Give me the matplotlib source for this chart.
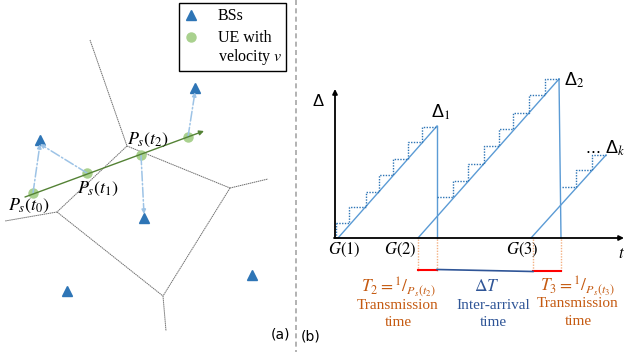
import matplotlib.pyplot as plt
import numpy as np
from matplotlib.patches import Rectangle

# ---- panel (a) data (pixel coordinates of the drawing) ----
vor_x = [[90, 127], [127, 57], [57, 5], [127, 230], [230, 268], [230, 163], [57, 163], [163, 166]]
vor_y = [[40, 146], [146, 212], [212, 221], [146, 188], [188, 179], [188, 296], [212, 296], [296, 331]]
bs_x = [195, 40, 144, 252, 67]
bs_y = [88, 140, 218, 275, 291]
ue_x = [33, 87, 141, 188]
ue_y = [193, 173, 155, 137]
ue_serving = [1, 1, 2, 0]          # index of BS each UE position links to
ue_labels = [r"$P_s(t_0)$", r"$P_s(t_1)$", r"$P_s(t_2)$"]
ue_label_x = [29, 98, 148]
ue_label_y = [206, 189, 140]
legend_labels = ["BSs", "UE with", "velocity $v$"]

# ---- panel (b) data ----
saw_start = [338, 418, 531]
saw_peak_x = [437, 559, 606]
saw_peak_y = [126, 79, 155]
saw_drop = [0, 2, None]
step1_x = [336, 349, 366, 379, 393, 408, 422, 437]
step1_y = [223, 207, 192, 175, 159, 142, 127]
step2_x = [437, 453, 468, 484, 499, 513, 529, 545, 559]
step2_y = [197, 181, 164, 146, 129, 113, 95, 79]
step3_x = [562, 576, 592, 606]
step3_y = [187, 170, 155]
gen_labels = ["$G(1)$", "$G(2)$", "$G(3)$"]
gen_x = [344, 400, 522]
mark_x = [418, 437, 533, 561]

orange = "#c55a11"
navy = "#2f5597"
lblue = "#5b9bd5"
serif = 'Liberation Serif'
sans = 'Liberation Sans'

plt.rcParams['mathtext.fontset'] = 'stix'

fig = plt.figure(figsize=(6.25, 3.52), dpi=100)
ax = fig.add_axes([0, 0, 1, 1])
ax.set_xlim(0, 625)
ax.set_ylim(352, 0)
ax.axis('off')

# Voronoi cells
for xs, ys in zip(vor_x, vor_y):
    ax.plot(xs, ys, color='#6f6f6f', lw=0.7, ls=(0, (1.5, 0.6)))

# UE -> BS links
for i in range(len(ue_x)):
    b = ue_serving[i]
    ax.annotate("", xy=(bs_x[b], bs_y[b] + 4 * np.sign(ue_y[i] - bs_y[b])), xytext=(ue_x[i], ue_y[i]),
                arrowprops=dict(arrowstyle='-|>', color='#9dc3e6', lw=1.1, ls='-.',
                                mutation_scale=6, shrinkA=0, shrinkB=0))

# trajectory
ax.annotate("", xy=(204, 131), xytext=(25, 197),
            arrowprops=dict(arrowstyle='-|>', color='#548235', lw=1.0, mutation_scale=7,
                            shrinkA=0, shrinkB=0))
ax.plot(bs_x, bs_y, '^', color='#2e75b6', ms=7, ls='none')
ax.plot(ue_x, ue_y, 'o', color='#a9d18e', ms=6.5, ls='none')
for t, x, y in zip(ue_labels, ue_label_x, ue_label_y):
    ax.text(x, y, t, fontsize=13, ha='center', va='center')

# legend box
ax.add_patch(Rectangle((179, 3), 107, 68, facecolor='white', edgecolor='black', lw=1.0))
ax.plot([191], [15], '^', color='#2e75b6', ms=7)
ax.plot([191], [37], 'o', color='#a9d18e', ms=6.5)
for t, y in zip(legend_labels, [16, 38, 57]):
    ax.text(218, y, t, fontsize=11.5, ha='left', va='center', family=serif)

# divider
ax.plot([296, 296], [0, 352], color='#a6a6a6', lw=1.2, ls=(0, (3, 2)))
ax.text(281, 334, "(a)", fontsize=10, ha='center', va='center', family='DejaVu Sans')
ax.text(311, 337, "(b)", fontsize=10, ha='center', va='center', family='DejaVu Sans')

# axes of panel (b)
ax.annotate("", xy=(335, 89), xytext=(335, 238), annotation_clip=False,
            arrowprops=dict(arrowstyle='-|>', color='black', lw=1.3, mutation_scale=7, shrinkA=0, shrinkB=0))
ax.annotate("", xy=(624, 238), xytext=(334, 238), annotation_clip=False,
            arrowprops=dict(arrowstyle='-|>', color='black', lw=1.3, mutation_scale=7, shrinkA=0, shrinkB=0))
ax.text(318, 101, "Δ", fontsize=12, ha='center', va='center', family=sans)
ax.text(625, 253, "$t$", fontsize=12, ha='right', va='center')

# sawtooth
for s, px, py, d in zip(saw_start, saw_peak_x, saw_peak_y, saw_drop):
    ax.plot([s, px], [238, py], color=lblue, lw=1.0)
    if d is not None:
        ax.plot([px, px + d], [py, 238], color=lblue, lw=1.0)

for sx, sy in [(step1_x, step1_y), (step2_x, step2_y), (step3_x, step3_y)]:
    ax.step(sx, list(sy) + [sy[-1]], where='post', color='#2e75b6', lw=1.0, ls=(0, (1, 1)))
ax.plot([336, 336], [238, 223], color='#2e75b6', lw=1.0, ls=(0, (1, 1)))

ax.text(441, 112, "Δ$_1$", fontsize=13, ha='center', va='center', family=sans)
ax.text(574, 80, "Δ$_2$", fontsize=13, ha='center', va='center', family=sans)
ax.text(625, 148, "... Δ$_k$", fontsize=13, ha='right', va='center', family=sans)

for g, x in zip(gen_labels, gen_x):
    ax.text(x, 250, g, fontsize=12, ha='center', va='center')

for x in mark_x:
    ax.plot([x, x], [239, 271], color='#f4b183', lw=1.0, ls=(0, (1, 1)))
ax.plot([mark_x[0], mark_x[1]], [270, 270], color='#ff0000', lw=1.5)
ax.plot([mark_x[2], mark_x[3]], [271, 271], color='#ff0000', lw=1.5)
ax.plot([mark_x[1], mark_x[2]], [269.5, 271.5], color=navy, lw=1.2)

ax.text(398, 292, r"$T_2 = {}^1/_{P_s(t_2)}$", fontsize=12.5, color=orange, ha='center', va='baseline')
ax.text(398, 309, "Transmission", fontsize=11, color=orange, ha='center', va='baseline', family=serif)
ax.text(398, 326, "time", fontsize=11, color=orange, ha='center', va='baseline', family=serif)
ax.text(487, 291, r"$\Delta T$", fontsize=12.5, color=navy, ha='center', va='baseline')
ax.text(493, 309, "Inter-arrival", fontsize=11, color=navy, ha='center', va='baseline', family=serif)
ax.text(493, 326, "time", fontsize=11, color=navy, ha='center', va='baseline', family=serif)
ax.text(577, 291, r"$T_3 = {}^1/_{P_s(t_3)}$", fontsize=12.5, color=orange, ha='center', va='baseline')
ax.text(578, 307, "Transmission", fontsize=11, color=orange, ha='center', va='baseline', family=serif)
ax.text(578, 325, "time", fontsize=11, color=orange, ha='center', va='baseline', family=serif)

fig.savefig("out.png", dpi=100)
